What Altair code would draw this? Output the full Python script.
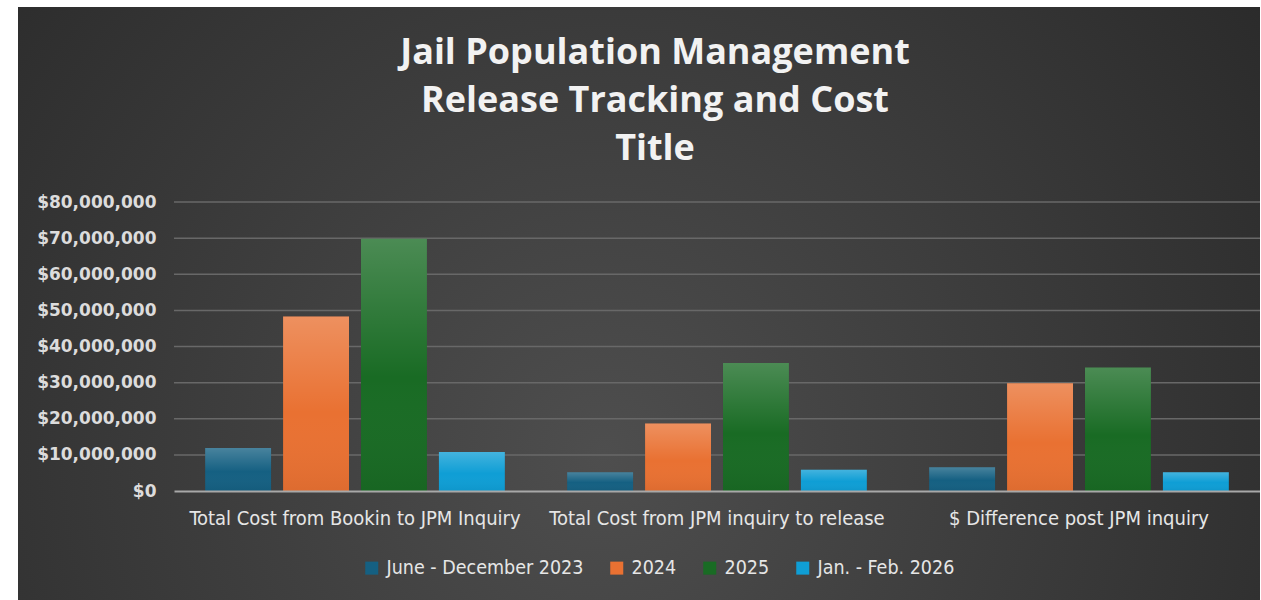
import altair as alt
import pandas as pd

title_lines = ["Jail Population Management", "Release Tracking and Cost", "Title"]
categories = [
    "Total Cost from Bookin to JPM Inquiry",
    "Total Cost from JPM inquiry to release",
    "$ Difference post JPM inquiry",
]
series = ["June - December 2023", "2024", "2025", "Jan. - Feb. 2026"]
colors = ["#156082", "#E97132", "#196B24", "#0F9ED5"]

v_2023 = [11.9e6, 5.2e6, 6.6e6]
v_2024 = [48.3e6, 18.7e6, 29.8e6]
v_2025 = [69.8e6, 35.4e6, 34.2e6]
v_2026 = [10.8e6, 5.9e6, 5.2e6]
y_ticks = [0, 10e6, 20e6, 30e6, 40e6, 50e6, 60e6, 70e6, 80e6]

rows = []
for s, vals in zip(series, [v_2023, v_2024, v_2025, v_2026]):
    for c, v in zip(categories, vals):
        rows.append({"Category": c, "Series": s, "Value": v})
df = pd.DataFrame(rows)
grid_df = pd.DataFrame({"Value": y_ticks[1:]})

W, H = 1086, 289
LABEL_FONT = "DejaVu Sans Condensed"

bg = alt.Chart(pd.DataFrame({"k": [0]})).mark_rect(
    fill=alt.RadialGradient(
        gradient="radial",
        x1=0.47, y1=0.62, r1=0,
        x2=0.47, y2=0.62, r2=0.75,
        stops=[
            alt.GradientStop(offset=0, color="#4e4e4e"),
            alt.GradientStop(offset=1, color="#252525"),
        ],
    ),
    clip=False,
).encode(
    x=alt.value(-156), x2=alt.value(1090),
    y=alt.value(-195), y2=alt.value(400),
)

title = alt.Chart(pd.DataFrame({"k": [0]})).mark_text(
    align="center", baseline="alphabetic", lineHeight=48,
    font="Open Sans", fontSize=36, fontWeight="bold", color="#f2f2f2",
).encode(x=alt.value(481), y=alt.value(-138), text=alt.value(title_lines))

x_axis = alt.Axis(
    labelAngle=0, labelColor="#e6e6e6", labelFont=LABEL_FONT,
    labelFontSize=20, labelPadding=17, ticks=False, labelLimit=400,
    domainColor="#a8a8a8", domainWidth=2, grid=False, zindex=2,
)
y_axis = alt.Axis(
    values=y_ticks, format="$,.0f", labelColor="#dcdcdc",
    labelFont="DejaVu Sans", labelFontWeight="bold", labelFontSize=17,
    labelPadding=18, ticks=False, domain=False, grid=False, zindex=2,
    labelOverlap=False,
)
y_scale = alt.Scale(domain=[0, 80e6], nice=False)
x_enc = alt.X("Category:N", sort=categories, title=None,
              scale=alt.Scale(paddingInner=0, paddingOuter=0), axis=x_axis)
xoff = alt.XOffset("Series:N", sort=series,
                   scale=alt.Scale(paddingInner=0.154, paddingOuter=0.4))
y_enc = alt.Y("Value:Q", title=None, scale=y_scale, axis=y_axis)

grid = alt.Chart(grid_df).mark_rule(color="#686868", strokeWidth=1.5).encode(
    y=y_enc, x=alt.value(0), x2=alt.value(W)
)

bars = alt.Chart(df).mark_bar().encode(
    x=x_enc,
    xOffset=xoff,
    y=y_enc,
    color=alt.Color(
        "Series:N", sort=series,
        scale=alt.Scale(domain=series, range=colors),
        legend=alt.Legend(
            title=None, orient="none", direction="horizontal",
            legendX=188, legendY=356, zindex=2,
            symbolType="square", symbolSize=169, symbolStrokeWidth=0,
            labelColor="#e6e6e6", labelFont=LABEL_FONT, labelFontSize=19.5,
            labelOffset=5, columnPadding=23, labelLimit=400,
        ),
    ),
)

shine = alt.Chart(df).mark_bar(
    fill=alt.LinearGradient(
        gradient="linear", x1=0, y1=0, x2=0, y2=1,
        stops=[
            alt.GradientStop(offset=0, color="rgba(255,255,255,0.22)"),
            alt.GradientStop(offset=0.55, color="rgba(255,255,255,0)"),
            alt.GradientStop(offset=1, color="rgba(0,0,0,0.05)"),
        ],
    )
).encode(x=x_enc, xOffset=xoff, y=y_enc)

chart = alt.layer(bg, grid, bars, shine, title).properties(
    width=W, height=H,
    autosize=alt.AutoSizeParams(type="none"),
    padding={"left": 174, "top": 202, "right": 0, "bottom": 109},
).configure(background="white").configure_view(stroke=None)

chart.save("out.html", embed_options={"renderer": "svg", "actions": False})
